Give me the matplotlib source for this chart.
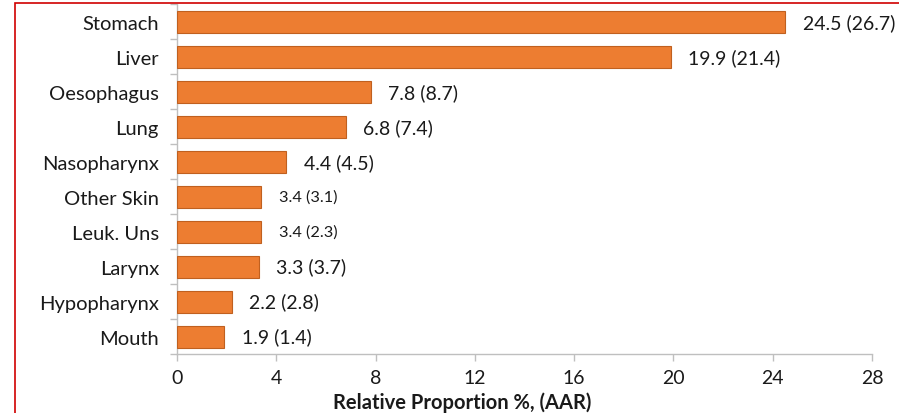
import numpy as np
import matplotlib.pyplot as plt
from matplotlib.patches import Rectangle

# Top cancer sites: relative proportion % and (AAR)
sites = ["Stomach", "Liver", "Oesophagus", "Lung", "Nasopharynx",
         "Other Skin", "Leuk. Uns", "Larynx", "Hypopharynx", "Mouth"]
proportion = [24.5, 19.9, 7.8, 6.8, 4.4, 3.4, 3.4, 3.3, 2.2, 1.9]
aar = [26.7, 21.4, 8.7, 7.4, 4.5, 3.1, 2.3, 3.7, 2.8, 1.4]
small_labels = ["Other Skin", "Leuk. Uns"]
xticks = [0, 4, 8, 12, 16, 20, 24, 28]

plt.rcParams['font.family'] = ['Lato', 'DejaVu Sans']

fig = plt.figure(figsize=(8.99, 4.14), dpi=100)
ax = fig.add_axes([0.1969, 0.1425, 0.7731, 0.8445])

y = np.arange(len(sites))
ax.barh(y, proportion, height=0.63, color="#ED7D31", edgecolor="#C0601F",
        linewidth=0.8, zorder=3)

for yi, name, p, a in zip(y, sites, proportion, aar):
    fs = 11.7 if name in small_labels else 14
    ax.text(p + 0.7, yi, f"{p} ({a})", va="center", ha="left",
            fontsize=fs, color="#1a1a1a")

ax.set_ylim(len(sites) - 0.5, -0.5)
ax.set_xlim(0, 28)
ax.set_xticks(xticks)
ax.set_xticklabels([str(t) for t in xticks], fontsize=14, color="#1a1a1a")
ax.set_yticks(y)
ax.set_yticklabels(sites, fontsize=14.5, color="#1a1a1a")
ax.set_yticks(np.arange(len(sites) + 1) - 0.5, minor=True)

ax.tick_params(axis="y", which="major", length=0, pad=13)
ax.tick_params(axis="y", which="minor", length=5, color="#BFBFBF", width=1)
ax.tick_params(axis="x", length=5, color="#BFBFBF", width=1, pad=6)

for s in ["top", "right"]:
    ax.spines[s].set_visible(False)
for s in ["left", "bottom"]:
    ax.spines[s].set_color("#BFBFBF")
    ax.spines[s].set_linewidth(1)

ax.set_xlabel("Relative Proportion %, (AAR)", fontsize=14.5,
              fontweight="bold", labelpad=4, color="#1a1a1a", x=0.41)

# thin red frame around the figure panel
fig.patches.append(Rectangle((15 / 899, -0.1), 1.2, (414 - 4) / 414 + 0.1,
                             transform=fig.transFigure, fill=False,
                             edgecolor="#D00000", linewidth=1.2))

fig.savefig("out.png", dpi=100)
